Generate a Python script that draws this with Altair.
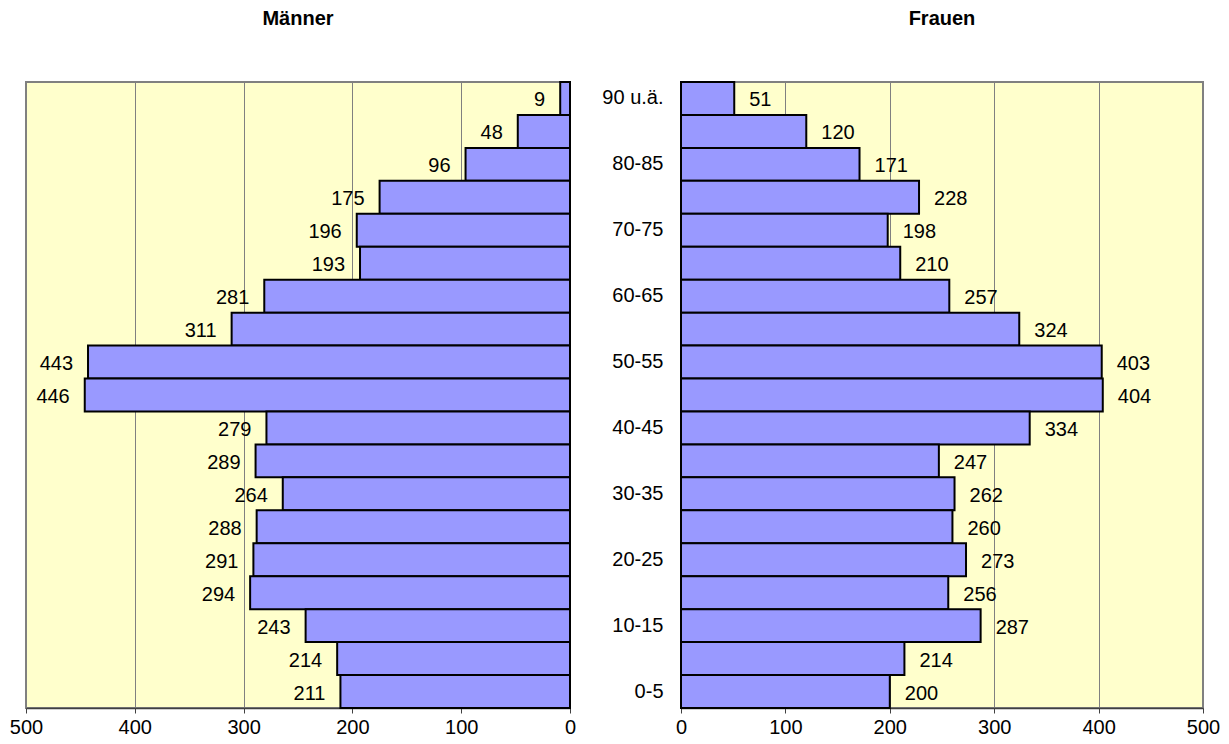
import altair as alt
import pandas as pd

categories = ["90 u.ä.", "85-90", "80-85", "75-80", "70-75", "65-70", "60-65", "55-60",
              "50-55", "45-50", "40-45", "35-40", "30-35", "25-30", "20-25", "15-20",
              "10-15", "5-10", "0-5"]
maenner = [9, 48, 96, 175, 196, 193, 281, 311, 443, 446, 279, 289, 264, 288, 291, 294, 243, 214, 211]
frauen = [51, 120, 171, 228, 198, 210, 257, 324, 403, 404, 334, 247, 262, 260, 273, 256, 287, 214, 200]
shown_labels = ["90 u.ä.", "80-85", "70-75", "60-65", "50-55", "40-45", "30-35", "20-25", "10-15", "0-5"]
x_ticks = [0, 100, 200, 300, 400, 500]

df_m = pd.DataFrame({"Alter": categories, "Wert": maenner})
df_f = pd.DataFrame({"Alter": categories, "Wert": frauen})

FONT = "Liberation Sans"
BAR = "#9999FF"
H = 626

y_scale = alt.Scale(domain=categories, paddingInner=0, paddingOuter=0)

def x_axis():
    return alt.Axis(values=x_ticks, title=None, grid=True, gridColor="#808080", gridWidth=1,
                    labelFontSize=20, labelFont=FONT, labelColor="black", tickSize=5,
                    tickColor="#404040", domainColor="#404040", domainWidth=1.5,
                    labelPadding=4, labelFlush=False)

# Männer
base_m = alt.Chart(df_m)
bars_m = base_m.mark_bar(fill=BAR, stroke="black", strokeWidth=2).encode(
    x=alt.X("Wert:Q", scale=alt.Scale(domain=[0, 500], reverse=True, nice=False), axis=x_axis()),
    y=alt.Y("Alter:N", scale=y_scale, axis=None, sort=categories),
)
text_m = base_m.mark_text(align="right", baseline="middle", dx=-15, dy=2, fontSize=20,
                          font=FONT, color="black").encode(
    x=alt.X("Wert:Q", scale=alt.Scale(domain=[0, 500], reverse=True, nice=False)),
    y=alt.Y("Alter:N", scale=y_scale, sort=categories),
    text="Wert:Q",
)
left = alt.layer(bars_m, text_m).properties(
    width=544, height=H,
    title=alt.TitleParams("Männer", fontSize=20, font=FONT, fontWeight="bold", anchor="middle", offset=52),
)

# Frauen
base_f = alt.Chart(df_f)
bars_f = base_f.mark_bar(fill=BAR, stroke="black", strokeWidth=2).encode(
    x=alt.X("Wert:Q", scale=alt.Scale(domain=[0, 500], nice=False), axis=x_axis()),
    y=alt.Y("Alter:N", scale=y_scale, sort=categories,
            axis=alt.Axis(values=shown_labels, title=None, ticks=False, domain=False, grid=False,
                          labelFontSize=20, labelFont=FONT, labelColor="black", labelPadding=18)),
)
text_f = base_f.mark_text(align="left", baseline="middle", dx=15, dy=2, fontSize=20,
                          font=FONT, color="black").encode(
    x=alt.X("Wert:Q", scale=alt.Scale(domain=[0, 500], nice=False)),
    y=alt.Y("Alter:N", scale=y_scale, sort=categories),
    text="Wert:Q",
)
right = alt.layer(bars_f, text_f).properties(
    width=522, height=H,
    title=alt.TitleParams("Frauen", fontSize=20, font=FONT, fontWeight="bold", anchor="middle", offset=52),
)

chart = alt.hconcat(left, right, spacing=23).properties(
    padding={"left": 0, "top": 0, "right": 0, "bottom": 0}
).configure_view(
    fill="#FFFFCC", stroke="#808080", strokeWidth=2
)

chart.save("out.html", embed_options={"renderer": "svg", "actions": False})
